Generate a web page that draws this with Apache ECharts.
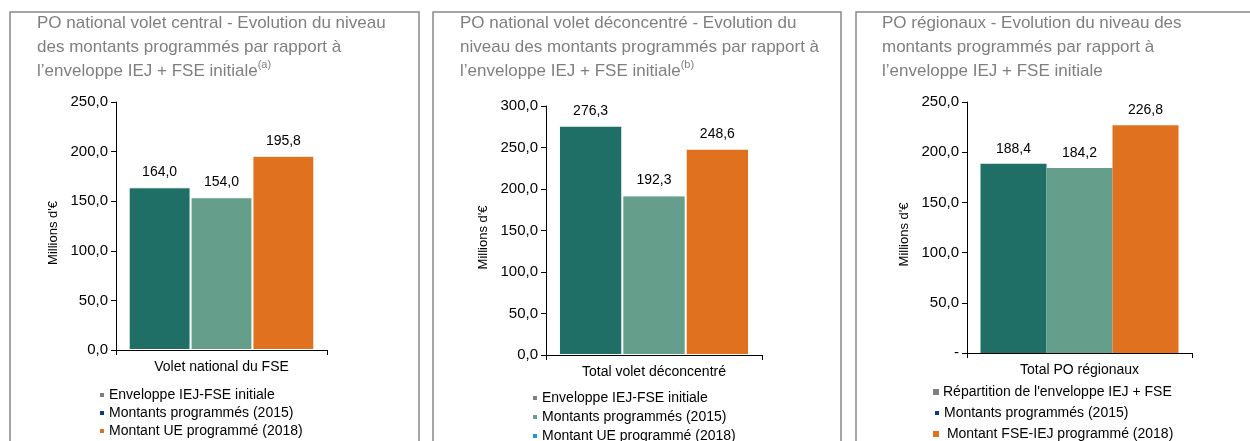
<!DOCTYPE html>
<html>
<head>
<meta charset="utf-8">
<script src="https://cdn.jsdelivr.net/npm/echarts@6/dist/echarts.min.js"></script>
<style>
  html, body { margin: 0; padding: 0; background: #fff; }
  #chart { width: 1250px; height: 441px; }
</style>
</head>
<body>
<div id="chart"></div>
<script>
// données
const categories = ['Volet national du FSE', 'Total volet déconcentré', 'Total PO régionaux'];
const enveloppe = [164.0, 276.3, 188.4];
const programmes2015 = [154.0, 192.3, 184.2];
const programme2018 = [195.8, 248.6, 226.8];
const yMax = [250, 300, 250];

const titles = [
  'PO national volet central - Evolution du niveau\ndes montants programmés par rapport à\nl’enveloppe IEJ + FSE initiale{sup|(a)}',
  'PO national volet déconcentré - Evolution du\nniveau des montants programmés par rapport à\nl’enveloppe IEJ + FSE initiale{sup|(b)}',
  'PO régionaux - Evolution du niveau des\nmontants programmés par rapport à\nl’enveloppe IEJ + FSE initiale'
];
const legendNames = [
  ['Enveloppe IEJ-FSE initiale', 'Montants programmés (2015)', 'Montant UE programmé (2018)'],
  ['Enveloppe IEJ-FSE initiale', 'Montants programmés (2015)', 'Montant UE programmé (2018)'],
  ['Répartition de l\'enveloppe IEJ + FSE', 'Montants programmés (2015)', 'Montant FSE-IEJ programmé (2018)']
];

// couleurs des barres et des carrés de légende (différentes dans l'original)
const barColors = ['#1f6f66', '#659e8a', '#e0711e'];
const legendColors = [
  ['#7f7f7f', '#0b3a8e', '#e0711e'],
  ['#7f7f7f', '#659e8a', '#1c9ad6'],
  ['#7f7f7f', '#0b3a8e', '#e0711e']
];

const FONT = 'Liberation Sans, Arial, sans-serif';
const fmt = v => v.toFixed(1).replace('.', ',');

// positions des panneaux
const panels = [
  { box: [10, 12, 409], title: [37, 11], grid: [116, 102, 211, 248], legX: [98, 98, 98], legY: [396, 414, 432] },
  { box: [433, 12, 408], title: [460, 11], grid: [546, 106, 216, 249], legX: [531, 531, 531], legY: [399, 418, 437] },
  { box: [856, 12, 420], title: [882, 11], grid: [967, 102, 225, 251], legX: [933, 933, 933], legY: [393, 414, 435] }
];

const chart = echarts.init(document.getElementById('chart'), null, { renderer: 'canvas' });

const legends = [];
panels.forEach((p, i) => {
  legendNames[i].forEach((n, k) => {
    legends.push({
      left: p.legX[k],
      top: p.legY[k] - 8,
      padding: 0,
      icon: 'rect',
      itemWidth: 6,
      itemHeight: 6,
      selectedMode: false,
      textStyle: { fontFamily: FONT, fontSize: 14, color: '#000', padding: [0, 0, 0, -1] },
      formatter: name => (i === 2 && k === 2) ? '\u00a0' + name : name,
      data: [{ name: n, itemStyle: { color: legendColors[i][k] } }]
    });
  });
});

const option = {
  backgroundColor: '#fff',
  animation: false,
  textStyle: { fontFamily: FONT },
  graphic: panels.map(p => ({
    type: 'rect',
    shape: { x: p.box[0], y: p.box[1], width: p.box[2], height: 460 },
    style: { fill: 'none', stroke: '#888', lineWidth: 1.5 },
    silent: true
  })),
  title: panels.map((p, i) => ({
    text: titles[i],
    left: p.title[0],
    top: p.title[1],
    padding: 0,
    textStyle: {
      fontFamily: FONT, fontSize: 17, fontWeight: 'normal', color: '#7f7f7f', lineHeight: 24,
      rich: { sup: { fontFamily: FONT, fontSize: 11, color: '#7f7f7f', verticalAlign: 'top', lineHeight: 20 } }
    }
  })),
  legend: legends,
  grid: panels.map(p => ({ left: p.grid[0], top: p.grid[1], width: p.grid[2], height: p.grid[3] })),
  xAxis: categories.map((c, i) => ({
    type: 'category',
    gridIndex: i,
    data: [c],
    axisLine: { lineStyle: { color: '#000', width: 1 } },
    axisTick: { show: true, length: 5, lineStyle: { color: '#000' } },
    axisLabel: { color: '#000', fontSize: 14, fontFamily: FONT, margin: 10 }
  })),
  yAxis: yMax.map((m, i) => ({
    type: 'value',
    gridIndex: i,
    min: 0,
    max: m,
    interval: 50,
    name: 'Millions d\'€',
    nameLocation: 'middle',
    nameRotate: 90,
    nameGap: 56,
    nameTextStyle: { color: '#000', fontSize: 13, fontFamily: FONT, padding: [0, 14, 0, 0] },
    axisLine: { show: true, lineStyle: { color: '#000', width: 1 } },
    axisTick: { show: true, length: 5, lineStyle: { color: '#000' } },
    splitLine: { show: false },
    axisLabel: {
      color: '#000', fontSize: 15, fontFamily: FONT, margin: 8,
      formatter: v => (i === 2 && v === 0) ? '-' : fmt(v)
    }
  })),
  series: []
};

const valueSets = [enveloppe, programmes2015, programme2018];
categories.forEach((c, i) => {
  valueSets.forEach((vals, k) => {
    option.series.push({
      name: legendNames[i][k],
      type: 'bar',
      xAxisIndex: i,
      yAxisIndex: i,
      data: [vals[i]],
      barGap: 0,
      barCategoryGap: '12%',
      itemStyle: {
        color: barColors[k],
        borderColor: '#fff',
        borderWidth: i === 2 ? 0 : 1
      },
      label: {
        show: true,
        position: 'top',
        distance: 8,
        color: '#000',
        fontSize: 14,
        fontFamily: FONT,
        formatter: p => fmt(p.value)
      }
    });
  });
});

chart.setOption(option);
</script>
</body>
</html>
